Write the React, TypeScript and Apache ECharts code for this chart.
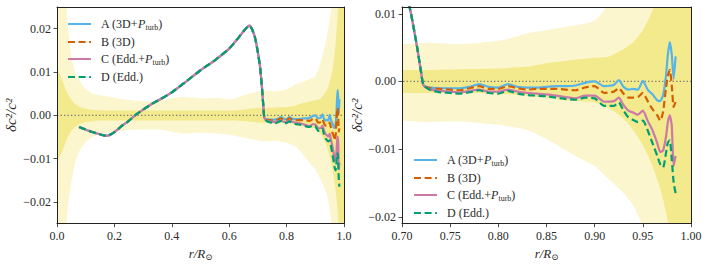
import React, { useEffect, useRef } from "react";
import * as echarts from "echarts";

// ---- confidence bands (shared radius grid) ----
const bandR = [0, 0.01, 0.02, 0.03, 0.04, 0.05, 0.063, 0.08, 0.1, 0.13, 0.17, 0.23, 0.3, 0.34, 0.38, 0.44, 0.5, 0.56, 0.61, 0.66, 0.7, 0.73, 0.76, 0.8, 0.83, 0.85, 0.88, 0.9, 0.915, 0.93, 0.94, 0.95, 0.96, 0.97, 0.98, 0.99, 1.0];
const lightUpper = [0.05, 0.05, 0.04, 0.028, 0.019, 0.0138, 0.01, 0.0078, 0.006, 0.0049, 0.0044, 0.0037, 0.0032, 0.0033, 0.0037, 0.0042, 0.0039, 0.004, 0.0037, 0.0048, 0.0055, 0.0057, 0.0055, 0.006, 0.0071, 0.0076, 0.0083, 0.009, 0.0115, 0.015, 0.018, 0.022, 0.027, 0.035, 0.05, 0.05, 0.05];
const lightLower = [-0.05, -0.05, -0.04, -0.027, -0.02, -0.0154, -0.011, -0.008, -0.0062, -0.0048, -0.0041, -0.0035, -0.0033, -0.0032, -0.0035, -0.0042, -0.004, -0.0042, -0.0046, -0.0053, -0.0058, -0.006, -0.0059, -0.0064, -0.0072, -0.0085, -0.011, -0.0125, -0.0145, -0.0165, -0.0183, -0.0215, -0.027, -0.035, -0.05, -0.05, -0.05];
const darkUpper = [0.011, 0.0095, 0.0078, 0.006, 0.0047, 0.0036, 0.0026, 0.0019, 0.0015, 0.0012, 0.0011, 0.0011, 0.0011, 0.0011, 0.0011, 0.0011, 0.0011, 0.0011, 0.0011, 0.0014, 0.0017, 0.0017, 0.0018, 0.0019, 0.0022, 0.0027, 0.0032, 0.0035, 0.0037, 0.0048, 0.0058, 0.0076, 0.0105, 0.016, 0.026, 0.05, 0.05];
const darkLower = [-0.011, -0.0095, -0.008, -0.0062, -0.0047, -0.0036, -0.0027, -0.002, -0.0016, -0.0013, -0.0012, -0.0012, -0.0012, -0.0012, -0.0012, -0.0012, -0.0012, -0.0012, -0.0012, -0.0014, -0.0017, -0.0017, -0.0017, -0.0018, -0.0021, -0.0024, -0.0029, -0.0031, -0.004, -0.0055, -0.0072, -0.0094, -0.0125, -0.0168, -0.024, -0.05, -0.05];

// ---- inversion results: common inner part (identical for all models) ----
const commonR = [0.077, 0.1, 0.12, 0.14, 0.155, 0.167, 0.177, 0.19, 0.2, 0.225, 0.25, 0.272, 0.3, 0.33, 0.36, 0.4, 0.45, 0.5, 0.55, 0.6, 0.63, 0.65, 0.665, 0.672, 0.68, 0.69, 0.7, 0.708, 0.712, 0.716, 0.72];
const commonDc = [-0.0027, -0.0033, -0.0038, -0.0042, -0.0045, -0.0047, -0.0047, -0.0043, -0.0039, -0.0025, -0.0013, 0.0, 0.0013, 0.0026, 0.0037, 0.0053, 0.0078, 0.0104, 0.0127, 0.0154, 0.0177, 0.0194, 0.0205, 0.0207, 0.0198, 0.0179, 0.0145, 0.0109, 0.008, 0.0048, 0.0012];

// ---- outer part, per model ----
const outerR = [0.7225, 0.73, 0.74, 0.75, 0.76, 0.77, 0.78, 0.79, 0.8, 0.81, 0.82, 0.83, 0.84, 0.85, 0.86, 0.87, 0.88, 0.89, 0.9, 0.91, 0.92, 0.925, 0.93, 0.935, 0.94, 0.945, 0.95, 0.955, 0.96, 0.965, 0.968, 0.971, 0.974, 0.976, 0.978, 0.98, 0.982, 0.984];
const modelA = [-0.0006, -0.0009, -0.001, -0.001, -0.001, -0.0008, -0.0004, -0.0008, -0.0009, -0.0004, -0.0008, -0.0009, -0.0009, -0.0008, -0.0007, -0.0007, -0.0006, -0.0002, 0.0, -0.0007, -0.0005, 0.0002, -0.0008, -0.0012, -0.0011, -0.0012, 0.0001, -0.0012, -0.0019, -0.0028, -0.0029, -0.002, 0.0008, 0.004, 0.0058, 0.004, 0.0004, 0.0037];
const modelB = [-0.0006, -0.001, -0.0011, -0.0012, -0.0013, -0.001, -0.0007, -0.0011, -0.0011, -0.0007, -0.001, -0.0012, -0.0011, -0.0011, -0.0011, -0.0012, -0.0013, -0.0009, -0.0007, -0.0017, -0.0015, -0.001, -0.0018, -0.0024, -0.0024, -0.0023, -0.0017, -0.0029, -0.0041, -0.005, -0.0058, -0.0045, -0.001, 0.0008, 0.0017, -0.0005, -0.0038, -0.003];
const modelC = [-0.0006, -0.0012, -0.0014, -0.0015, -0.0016, -0.0014, -0.0012, -0.0015, -0.0015, -0.0012, -0.0015, -0.0017, -0.0018, -0.0019, -0.0021, -0.0023, -0.0025, -0.0021, -0.0021, -0.003, -0.0029, -0.0024, -0.0035, -0.0043, -0.0046, -0.0049, -0.0043, -0.0058, -0.0072, -0.0091, -0.0104, -0.0102, -0.0082, -0.006, -0.005, -0.0065, -0.0125, -0.011];
const modelD = [-0.0006, -0.0013, -0.0016, -0.0017, -0.0018, -0.0016, -0.0013, -0.0017, -0.0018, -0.0014, -0.0018, -0.002, -0.0021, -0.0022, -0.0024, -0.0026, -0.0027, -0.0024, -0.0025, -0.0036, -0.0036, -0.0031, -0.0043, -0.0053, -0.0057, -0.006, -0.0058, -0.0072, -0.0091, -0.011, -0.0122, -0.0127, -0.0106, -0.009, -0.0087, -0.0115, -0.0149, -0.0165];

const seriesNames = ["A", "B", "C", "D"];
const legendLabels = [
  "{n|A (3D+}{i|P}{s|turb}{e|)}",
  "{n|B (3D)}",
  "{n|C (Edd.+}{i|P}{s|turb}{e|)}",
  "{n|D (Edd.)}",
];
const seriesColors = ["#56B4E9", "#D55E00", "#CC79A7", "#009E73"];
const seriesDashed = [false, true, false, true];
const seriesValues = [modelA, modelB, modelC, modelD];

const leftXTicks = [0, 0.2, 0.4, 0.6, 0.8, 1.0];
const leftYTicks = [-0.02, -0.01, 0, 0.01, 0.02];
const rightXTicks = [0.7, 0.75, 0.8, 0.85, 0.9, 0.95, 1.0];
const rightYTicks = [-0.02, -0.01, 0, 0.01];

const FONT = "'Liberation Serif', 'DejaVu Serif', serif";
const TXT = "#2a2a2a";
const LIGHT = "#FBF6CE";
const DARK = "#F3EA8D";

function fmtY(v: number) {
  const s = Math.abs(v).toFixed(2);
  return v < -1e-9 ? "\u2212" + s : s;
}

export default function App() {
  const ref = useRef<HTMLDivElement>(null);
  useEffect(() => {
    if (!ref.current) return;
    const chart = echarts.init(ref.current, undefined, { renderer: "svg" });

    const bandSeries = (gi: number, up: number[], lo: number[], color: string) => ({
      type: "custom",
      xAxisIndex: gi,
      yAxisIndex: gi,
      clip: true,
      silent: true,
      z: 1,
      data: [0],
      renderItem: (_params: any, api: any) => {
        const pts: number[][] = [];
        for (let i = 0; i < bandR.length; i++) pts.push(api.coord([bandR[i], up[i]]));
        for (let i = bandR.length - 1; i >= 0; i--) pts.push(api.coord([bandR[i], lo[i]]));
        return { type: "polygon", shape: { points: pts, smooth: 0.2 }, style: { fill: color, stroke: null } };
      },
    });

    const curveData = (vals: number[]) =>
      commonR.map((r, i) => [r, commonDc[i]]).concat(outerR.map((r, i) => [r, vals[i]]));

    const series: any[] = [];
    [0, 1].forEach((gi) => {
      series.push(bandSeries(gi, lightUpper, lightLower, LIGHT));
      series.push(bandSeries(gi, darkUpper, darkLower, DARK));
      series.push({
        type: "line",
        name: "zero",
        xAxisIndex: gi,
        yAxisIndex: gi,
        data: [[0, 0], [1, 0]],
        symbol: "none",
        silent: true,
        z: 2,
        lineStyle: { color: "#777", width: 1.3, type: [1.3, 2.2] },
      });
      seriesNames.forEach((nm, k) => {
        series.push({
          type: "line",
          name: nm,
          xAxisIndex: gi,
          yAxisIndex: gi,
          data: curveData(seriesValues[k]),
          symbol: "none",
          showSymbol: false,
          smooth: 0.2,
          clip: true,
          z: 3 + k,
          lineStyle: {
            color: seriesColors[k],
            width: 2.2,
            type: seriesDashed[k] ? [7, 3.6] : "solid",
          },
          itemStyle: { color: seriesColors[k] },
        });
      });
    });

    const axisLine = { show: true, onZero: false, lineStyle: { color: "#222", width: 1 } };
    const axisTick = { show: true, inside: false, length: 3.5, lineStyle: { color: "#222", width: 0.8 } };
    const label = { color: TXT, fontFamily: FONT, fontSize: 12 };
    const nameRich = {
      i: { fontFamily: FONT, fontStyle: "italic", fontSize: 13, color: TXT, lineHeight: 16 },
      s: { fontFamily: FONT, fontSize: 8.5, color: TXT, verticalAlign: "bottom", lineHeight: 11 },
    };

    const xName = "{i|r/R}{s|\u2299}";
    const yName = "\u03b4c\u00b2/c\u00b2";

    const legendCommon = {
      orient: "vertical",
      data: seriesNames,
      itemWidth: 23,
      itemHeight: 2,
      itemGap: 5,
      padding: 0,
      backgroundColor: "transparent",
      itemStyle: { opacity: 0 },
      formatter: (name: string) => legendLabels[seriesNames.indexOf(name)],
      textStyle: {
        fontFamily: FONT,
        fontSize: 12,
        color: TXT,
        rich: {
          n: { fontFamily: FONT, fontSize: 12, color: TXT, lineHeight: 14, padding: [0, 0, 0, 5] },
          e: { fontFamily: FONT, fontSize: 12, color: TXT, lineHeight: 14 },
          i: { fontFamily: FONT, fontSize: 12, fontStyle: "italic", color: TXT, lineHeight: 14 },
          s: { fontFamily: FONT, fontSize: 8, color: TXT, verticalAlign: "bottom", lineHeight: 10 },
        },
      },
    };

    const yNameStyle = { fontFamily: FONT, fontStyle: "italic", fontSize: 15, color: TXT };

    const option: any = {
      animation: false,
      backgroundColor: "#fff",
      grid: [
        { left: 57, top: 7, width: 287, height: 222 },
        { left: 402, top: 7, width: 289, height: 222 },
      ],
      legend: [
        { ...legendCommon, left: 67, top: 18 },
        { ...legendCommon, left: 413, top: 154 },
      ],
      xAxis: [
        {
          gridIndex: 0, type: "value", min: 0, max: 1, z: 10,
          axisLine, axisTick: { ...axisTick, customValues: leftXTicks },
          axisLabel: { ...label, margin: 6, customValues: leftXTicks, formatter: (v: number) => v.toFixed(1) },
          splitLine: { show: false },
          name: xName, nameLocation: "middle", nameGap: 17,
          nameTextStyle: { rich: nameRich },
        },
        {
          gridIndex: 1, type: "value", min: 0.7, max: 1.0, z: 10,
          axisLine, axisTick: { ...axisTick, customValues: rightXTicks },
          axisLabel: { ...label, margin: 6, customValues: rightXTicks, formatter: (v: number) => v.toFixed(2) },
          splitLine: { show: false },
          name: xName, nameLocation: "middle", nameGap: 17,
          nameTextStyle: { rich: nameRich },
        },
        { gridIndex: 0, type: "value", position: "top", min: 0, max: 1, z: 10, axisLine, axisTick: { show: false }, axisLabel: { show: false }, splitLine: { show: false } },
        { gridIndex: 1, type: "value", position: "top", min: 0.7, max: 1.0, z: 10, axisLine, axisTick: { show: false }, axisLabel: { show: false }, splitLine: { show: false } },
      ],
      yAxis: [
        {
          gridIndex: 0, type: "value", min: -0.025, max: 0.025, z: 10,
          axisLine, axisTick: { ...axisTick, customValues: leftYTicks },
          axisLabel: { ...label, margin: 6, customValues: leftYTicks, formatter: fmtY },
          splitLine: { show: false },
          name: yName, nameLocation: "middle", nameGap: 39,
          nameTextStyle: yNameStyle,
        },
        {
          gridIndex: 1, type: "value", min: -0.021, max: 0.011, z: 10,
          axisLine, axisTick: { ...axisTick, customValues: rightYTicks },
          axisLabel: { ...label, margin: 6, customValues: rightYTicks, formatter: fmtY },
          splitLine: { show: false },
          name: yName, nameLocation: "middle", nameGap: 33,
          nameTextStyle: yNameStyle,
        },
        { gridIndex: 0, type: "value", position: "right", min: -0.025, max: 0.025, z: 10, axisLine, axisTick: { show: false }, axisLabel: { show: false }, splitLine: { show: false } },
        { gridIndex: 1, type: "value", position: "right", min: -0.021, max: 0.011, z: 10, axisLine, axisTick: { show: false }, axisLabel: { show: false }, splitLine: { show: false } },
      ],
      series,
    };
    chart.setOption(option);
    return () => chart.dispose();
  }, []);
  return <div ref={ref} style={{ width: 706, height: 266, position: "absolute", left: 0, top: 0 }} />;
}
